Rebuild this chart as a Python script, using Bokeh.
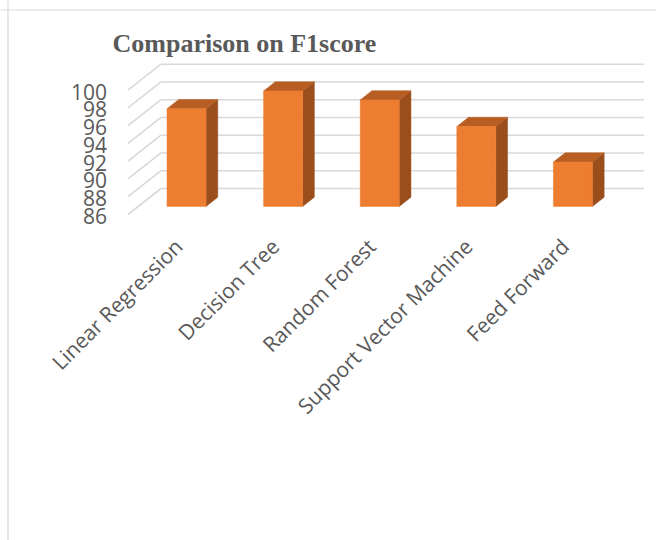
import math
from bokeh.plotting import figure
from bokeh.models import ColumnDataSource, Label, Span, Range1d
from bokeh.core.properties import value
from bokeh.embed import file_html
from bokeh.resources import INLINE

# ---- data ----
categories = ["Linear Regression", "Decision Tree", "Random Forest",
              "Support Vector Machine", "Feed Forward"]
f1_scores = [97.0, 99.0, 98.0, 95.0, 91.0]
y_ticks = [86, 88, 90, 92, 94, 96, 98, 100]
title_text = "Comparison on F1score"

# ---- layout / style constants ----
W, H = 656, 540
PX_PER_CAT = 96.6          # pixels per category step
PX_PER_UNIT = 8.88         # pixels per value unit
CAT0_PX = 208.8            # pixel x of category 0 at the back wall
BASE_PX = 188.0            # pixel y of base value at the back wall
BASE = 86.0
DEPTH_DX_PX, DEPTH_DY_PX = -33.0, 26.0   # back -> front offset
D_FRONT, D_BACK = 0.69, 0.335            # bar depth span
HALF_W = 0.202

DX = DEPTH_DX_PX / PX_PER_CAT
DY = -DEPTH_DY_PX / PX_PER_UNIT

x_start = -CAT0_PX / PX_PER_CAT
x_end = (W - CAT0_PX) / PX_PER_CAT
y_end = BASE + BASE_PX / PX_PER_UNIT
y_start = BASE - (H - BASE_PX) / PX_PER_UNIT


def px_x(px):
    return x_start + px / PX_PER_CAT


def px_y(py):
    return y_end - py / PX_PER_UNIT


def proj(i, v, d):
    return i + d * DX, v + d * DY


FRONT_C = "#ED7D31"
TOP_C = "#B95E23"
SIDE_C = "#9A4E1C"
GRID_C = "#D9D9D9"
TEXT_C = "#595959"

p = figure(width=W, height=H, output_backend="svg", toolbar_location=None,
           x_range=Range1d(x_start, x_end), y_range=Range1d(y_start, y_end),
           x_axis_location=None, y_axis_location=None, min_border=0)
p.grid.visible = False
p.outline_line_color = None
p.background_fill_color = "white"
p.border_fill_color = "white"

# ---- walls: gridlines ----
n = len(categories)
wall_l, wall_r = -0.5, n - 0.5
gx, gy = [], []
for t in y_ticks:
    gx.append([wall_l, wall_r]); gy.append([t, t])
    a = proj(wall_l, t, 0.0); b = proj(wall_l, t, 1.0)
    gx.append([b[0], a[0]]); gy.append([b[1], a[1]])
p.multi_line(gx, gy, line_color=GRID_C, line_width=1.6)

# ---- bars ----
fx, fy, tx, ty, sx, sy = [], [], [], [], [], []
for i, v in enumerate(f1_scores):
    l, r = i - HALF_W, i + HALF_W
    pts = [proj(l, BASE, D_FRONT), proj(r, BASE, D_FRONT), proj(r, v, D_FRONT), proj(l, v, D_FRONT)]
    fx.append([q[0] for q in pts]); fy.append([q[1] for q in pts])
    pts = [proj(l, v, D_FRONT), proj(r, v, D_FRONT), proj(r, v, D_BACK), proj(l, v, D_BACK)]
    tx.append([q[0] for q in pts]); ty.append([q[1] for q in pts])
    pts = [proj(r, BASE, D_FRONT), proj(r, v, D_FRONT), proj(r, v, D_BACK), proj(r, BASE, D_BACK)]
    sx.append([q[0] for q in pts]); sy.append([q[1] for q in pts])
p.patches(sx, sy, fill_color=SIDE_C, line_color=SIDE_C, line_width=0.5)
p.patches(tx, ty, fill_color=TOP_C, line_color=TOP_C, line_width=0.5)
p.patches(fx, fy, fill_color=FRONT_C, line_color=FRONT_C, line_width=0.5)

# ---- y tick labels (front-left edge) ----
ty_src = ColumnDataSource(dict(
    x=[proj(wall_l, t, 1.0)[0] for t in y_ticks],
    y=[proj(wall_l, t, 1.0)[1] for t in y_ticks],
    text=[str(t) for t in y_ticks]))
p.text("x", "y", text="text", source=ty_src, text_align="right",
       text_baseline="middle", x_offset=-21, y_offset=1.5,
       text_font=value("Open Sans"), text_font_size="21px", text_color=TEXT_C)

# ---- category labels ----
cat_src = ColumnDataSource(dict(
    x=[proj(i, BASE, D_FRONT)[0] for i in range(n)],
    y=[proj(i, BASE, D_FRONT)[1] for i in range(n)],
    text=categories))
p.text("x", "y", text="text", source=cat_src, angle=math.pi / 4,
       text_align="right", text_baseline="middle", x_offset=-8, y_offset=36,
       text_font=value("Open Sans"), text_font_size="21px", text_color=TEXT_C)

# ---- title ----
p.add_layout(Label(x=px_x(112), y=px_y(43), text=title_text,
                   text_font="Liberation Serif", text_font_style="bold",
                   text_font_size="26px", text_color=TEXT_C,
                   text_align="left", text_baseline="alphabetic"))

# ---- chart border (left and top visible) ----
p.add_layout(Span(location=px_x(7.5), dimension="height", line_color=GRID_C, line_width=1.2))
p.add_layout(Span(location=px_y(9.5), dimension="width", line_color=GRID_C, line_width=1.2))

open("out.html", "w").write(file_html(p, INLINE))
